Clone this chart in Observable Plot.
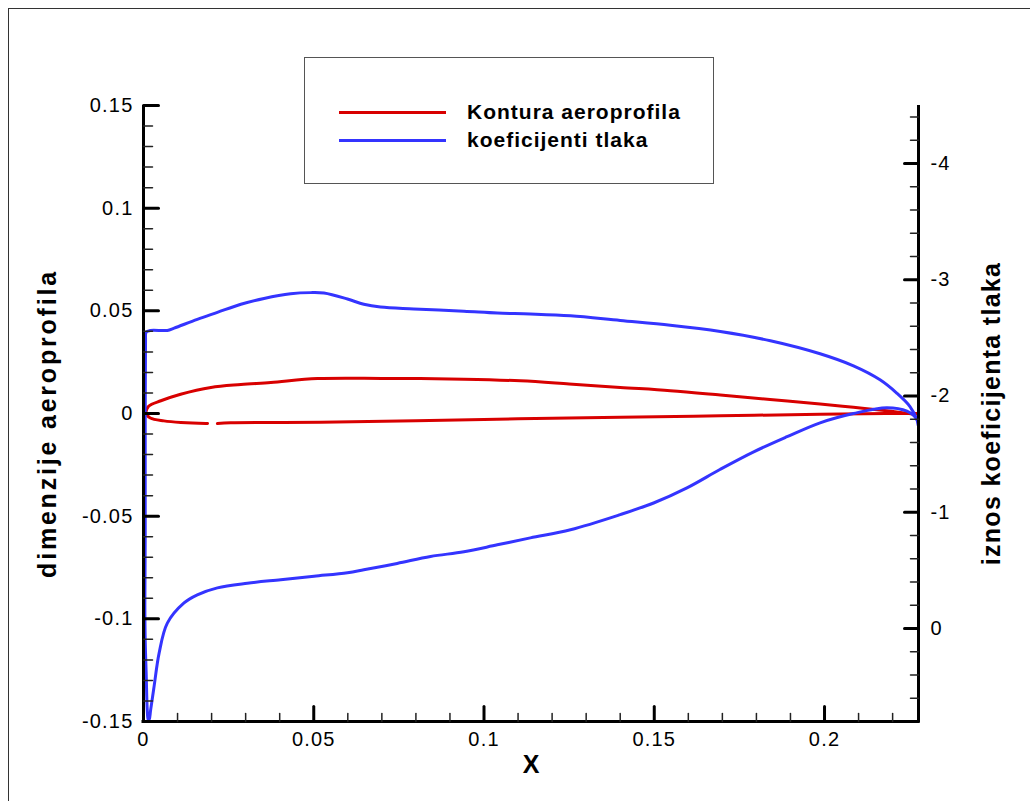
<!DOCTYPE html>
<html>
<head>
<meta charset="utf-8">
<script src="https://cdn.jsdelivr.net/npm/d3@7"></script>
<script src="https://cdn.jsdelivr.net/npm/@observablehq/plot@0.6"></script>
<style>
  body { margin: 0; background: #fff; }
  #wrap { position: relative; width: 1030px; height: 801px; overflow: hidden; background: #fff; }
  #frame { position: absolute; left: 8px; top: 8px; width: 1100px; height: 900px; border: 1.5px solid #333; box-sizing: border-box; }
  #chart { position: absolute; left: 0; top: 0; }
  #legend { position: absolute; left: 304px; top: 57px; width: 410px; height: 127px; border: 1.5px solid #555; background: #fff; box-sizing: border-box;
            font-family: "Liberation Sans", Arial, sans-serif; font-weight: bold; font-size: 21px; letter-spacing: 1px; color: #000; }
  .lg-line { position: absolute; left: 34px; width: 107px; height: 3px; }
  .lg-text { position: absolute; left: 162px; line-height: 24px; white-space: nowrap; }
</style>
</head>
<body>
<div id="wrap">
  <div id="frame"></div>
  <div id="chart"></div>
  <div id="legend"></div>
</div>
<script>
// ---------- data ----------
const seriesNames = ["Kontura aeroprofila", "koeficijenti tlaka"];
const seriesColors = ["#d80000", "#3434ff"];

const xTitle = "X";
const yTitle = "dimenzije aeroprofila";
const y2Title = "iznos koeficijenta tlaka";

const xDomain = [0, 0.2276];
const yDomain = [-0.15, 0.15];
const cpDomain = [0.8, -4.5]; // bottom -> top (reversed right axis)

const xMajor = [0, 0.05, 0.1, 0.15, 0.2];
const xTickLabels = ["0", "0.05", "0.1", "0.15", "0.2"];
const yMajor = [-0.15, -0.1, -0.05, 0, 0.05, 0.1, 0.15];
const yTickLabels = ["-0.15", "-0.1", "-0.05", "0", "0.05", "0.1", "0.15"];
const cpMajor = [-4, -3, -2, -1, 0];
const cpTickLabels = ["-4", "-3", "-2", "-1", "0"];

// Airfoil contour (red), upper surface
const redUpperX = [0.0006, 0.0015, 0.0051, 0.0109, 0.0198, 0.0286, 0.0374, 0.0511, 0.070, 0.0941, 0.1107, 0.125, 0.140, 0.1547, 0.1694, 0.184, 0.1987, 0.2085, 0.2183, 0.2266, 0.2276];
const redUpperY = [0, 0.0035, 0.0062, 0.0094, 0.0127, 0.0141, 0.0151, 0.0170, 0.0171, 0.0167, 0.0159, 0.0144, 0.0127, 0.0111, 0.0090, 0.0068, 0.0046, 0.0030, 0.0013, -0.0003, 0];
// Airfoil contour (red), lower surface (null = gap in the drawn line)
const redLowerX = [0.0006, 0.002, 0.006, 0.011, 0.0183, 0.0188, 0.020, 0.0217, 0.0256, 0.052, 0.080, 0.110, 0.140, 0.1694, 0.1987, 0.218, 0.2276];
const redLowerY = [0, -0.0022, -0.0036, -0.0044, -0.0049, -0.0049, null, -0.0049, -0.0045, -0.0043, -0.0035, -0.0026, -0.0018, -0.0011, -0.0004, 0, 0];

// Pressure coefficient (blue), upper surface
const cpUpperX = [0.0006, 0.0008, 0.0021, 0.007, 0.009, 0.0158, 0.0217, 0.0286, 0.0354, 0.0432, 0.0491, 0.053, 0.0599, 0.0647, 0.0696, 0.0794, 0.0941, 0.1039, 0.1136, 0.1254, 0.140, 0.1547, 0.1694, 0.1841, 0.1987, 0.2085, 0.2163, 0.2212, 0.2251, 0.2271, 0.2276];
const cpUpper = [-2.5, -2.55, -2.565, -2.565, -2.585, -2.66, -2.72, -2.79, -2.84, -2.88, -2.89, -2.886, -2.835, -2.79, -2.766, -2.75, -2.73, -2.714, -2.706, -2.69, -2.65, -2.61, -2.556, -2.476, -2.364, -2.26, -2.14, -2.026, -1.91, -1.80, -1.74];
// Pressure coefficient (blue), lower surface
const cpLowerX = [0.0006, 0.0005, 0.0005, 0.0004, 0.0005, 0.0008, 0.0011, 0.0014, 0.0017, 0.0021, 0.0031, 0.0046, 0.007, 0.0119, 0.0158, 0.0217, 0.0305, 0.0403, 0.0501, 0.0599, 0.0647, 0.0745, 0.0843, 0.0941, 0.1039, 0.1136, 0.1254, 0.140, 0.1498, 0.1596, 0.1694, 0.1792, 0.189, 0.1987, 0.2085, 0.2183, 0.2242, 0.2271, 0.2276];
const cpLower = [-2.5, -1.8, -0.8, -0.2, 0.1, 0.4, 0.7, 0.79, 0.78, 0.70, 0.50, 0.21, -0.046, -0.22, -0.29, -0.35, -0.39, -0.42, -0.45, -0.48, -0.505, -0.56, -0.62, -0.66, -0.72, -0.78, -0.85, -0.98, -1.08, -1.21, -1.37, -1.52, -1.65, -1.77, -1.85, -1.90, -1.87, -1.80, -1.74];

// ---------- build ----------
const cpToY = d3.scaleLinear().domain(cpDomain).range(yDomain);
const yToCp = cpToY.invert;

const redUpper = redUpperX.map((x, i) => ({x, y: redUpperY[i]}));
const redLower = redLowerX.map((x, i) => ({x, y: redLowerY[i]}));
const blueUpper = cpUpperX.map((x, i) => ({x, y: cpToY(cpUpper[i])}));
const blueLower = cpLowerX.map((x, i) => ({x, y: cpToY(cpLower[i])}));

const xMinor = d3.range(1, 23).filter(k => k % 5 !== 0).map(k => k / 100);
const yMinor = d3.range(-14, 15).filter(k => k % 5 !== 0).map(k => k / 100);
const cpMinor = d3.range(-22, 4).filter(k => k % 5 !== 0).map(k => k / 5);

const tickShape = {draw(ctx, l) { ctx.moveTo(0, 0); ctx.lineTo(0, -l); }};
const major = {stroke: "#000", strokeWidth: 3, shape: tickShape, anchor: "start"};
const minor = {stroke: "#222", strokeWidth: 1.5, shape: tickShape, anchor: "start"};
const lineOpts = {x: "x", y: "y", strokeWidth: 3, clip: true, curve: "catmull-rom"};
const titleOpts = {text: d => d, fontSize: 25, fontWeight: "bold", textAnchor: "middle", lineAnchor: "middle"};

const chart = Plot.plot({
  width: 1030,
  height: 801,
  marginLeft: 143,
  marginRight: 112,
  marginTop: 105,
  marginBottom: 80,
  x: {domain: xDomain},
  y: {domain: yDomain},
  style: {fontFamily: "'Liberation Sans', Arial, sans-serif", fontSize: "20px", letterSpacing: "1.2px", color: "#000", background: "transparent", overflow: "visible"},
  marks: [
    // curves
    Plot.line(redUpper, {...lineOpts, stroke: seriesColors[0]}),
    Plot.line(redLower, {...lineOpts, stroke: seriesColors[0]}),
    Plot.line(blueUpper, {...lineOpts, stroke: seriesColors[1]}),
    Plot.line(blueLower, {...lineOpts, stroke: seriesColors[1]}),
    // axis lines
    Plot.ruleX([xDomain[0]], {stroke: "#000", strokeWidth: 3, insetBottom: -1.5}),
    Plot.ruleX([xDomain[1]], {stroke: "#000", strokeWidth: 3, insetBottom: -1.5}),
    Plot.ruleY([yDomain[0]], {stroke: "#000", strokeWidth: 3, insetLeft: -1.5, insetRight: -1.5}),
    // ticks (inward)
    Plot.vector(yMajor, {y: d => d, frameAnchor: "left", length: 15, rotate: 90, ...major}),
    Plot.vector(yMinor, {y: d => d, frameAnchor: "left", length: 9, rotate: 90, ...minor}),
    Plot.vector(cpMajor.map(cpToY), {y: d => d, frameAnchor: "right", length: 14, rotate: -90, ...major}),
    Plot.vector(cpMinor.map(cpToY), {y: d => d, frameAnchor: "right", length: 8, rotate: -90, ...minor}),
    Plot.vector(xMajor, {x: d => d, frameAnchor: "bottom", length: 15, rotate: 0, ...major}),
    Plot.vector(xMinor, {x: d => d, frameAnchor: "bottom", length: 8, rotate: 0, ...minor}),
    // tick labels
    Plot.axisX(xMajor, {anchor: "bottom", tickSize: 0, tickPadding: 10, label: null,
      tickFormat: d => xTickLabels[xMajor.indexOf(d)]}),
    Plot.axisY(yMajor, {anchor: "left", tickSize: 0, tickPadding: 10, label: null,
      tickFormat: d => yTickLabels[yMajor.indexOf(d)]}),
    Plot.axisY(cpMajor.map(cpToY), {anchor: "right", tickSize: 0, tickPadding: 12, label: null,
      tickFormat: d => cpTickLabels[cpMajor.indexOf(Math.round(yToCp(d)) || 0)]}),
    // axis titles
    Plot.text([xTitle], {...titleOpts, frameAnchor: "bottom", dy: 43}),
    Plot.text([yTitle], {...titleOpts, frameAnchor: "left", dx: -96, dy: 10, rotate: -90}),
    Plot.text([y2Title], {...titleOpts, frameAnchor: "right", dx: 73, dy: 0, rotate: -90})
  ]
});

// widen the axis titles' letter spacing to the reference text lengths
d3.select(chart).selectAll("text").each(function () {
  const t = this.textContent;
  if (t === yTitle) d3.select(this).style("letter-spacing", "2.8px");
  if (t === y2Title) d3.select(this).style("letter-spacing", "1.3px");
  if (t === xTitle) d3.select(this).style("letter-spacing", "0px");
});

document.getElementById("chart").appendChild(chart);

// legend
const legend = document.getElementById("legend");
const lgTops = [54, 82];
seriesNames.forEach((name, i) => {
  const line = document.createElement("div");
  line.className = "lg-line";
  line.style.top = (lgTops[i] - 1.5) + "px";
  line.style.background = seriesColors[i];
  legend.appendChild(line);
  const txt = document.createElement("div");
  txt.className = "lg-text";
  txt.style.top = (lgTops[i] - 12) + "px";
  txt.textContent = name;
  legend.appendChild(txt);
});
</script>
</body>
</html>
